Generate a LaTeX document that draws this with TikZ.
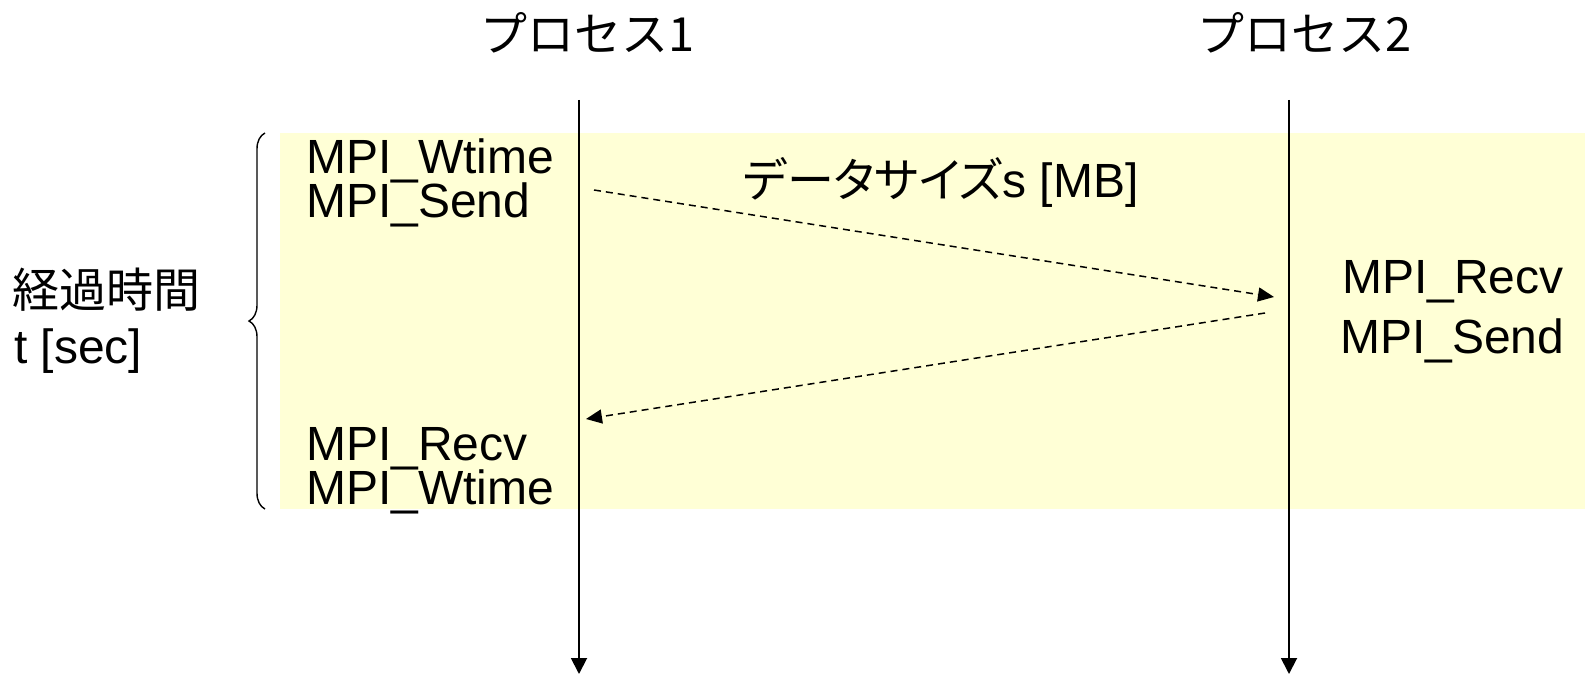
\documentclass[tikz,border=0pt]{standalone}
\usepackage{fontspec}
\setmainfont{Liberation Sans}
\newfontfamily\cjk{Noto Sans CJK JP}
\newfontfamily\cjkp[RawFeature=+palt]{Noto Sans CJK JP}
\usetikzlibrary{arrows.meta,decorations.pathreplacing}
\definecolor{bgyellow}{RGB}{255,255,214}
\tikzset{
  lbl/.style={inner sep=0pt, font=\fontsize{48}{48}\selectfont},
  jlbl/.style={inner sep=0pt, font=\cjk\fontsize{47}{47}\selectfont},
  lifeline/.style={line width=1.9pt, -{Triangle[length=16pt,width=16pt]}},
  msg/.style={line width=1.5pt, dash pattern=on 7pt off 5pt, -{Triangle[length=16pt,width=14pt]}},
}
\begin{document}
\begin{tikzpicture}[x=1pt,y=-1pt]
\useasboundingbox (0,0) rectangle (1585,674);
\fill[bgyellow] (280,133) rectangle (1585,509);
% titles
\node[jlbl] (t1) at (588,33) {プロセス1};
\node[jlbl] (t2) at (1305,33) {プロセス2};
% lifelines
\coordinate (p1top) at (579,100);
\coordinate (p1bot) at (579,674);
\coordinate (p2top) at (1289,100);
\coordinate (p2bot) at (1289,674);
\draw[lifeline] (p1top) -- (p1bot);
\draw[lifeline] (p2top) -- (p2bot);
% left labels
\node[lbl, anchor=base west] (w1) at (306,173) {MPI\_Wtime};
\node[lbl, anchor=base west] (s1) at (306,217) {MPI\_Send};
\node[lbl, anchor=base west] (r1) at (306,460) {MPI\_Recv};
\node[lbl, anchor=base west] (w2) at (306,504) {MPI\_Wtime};
% right labels
\node[lbl, anchor=base west] (r2) at (1342,293) {MPI\_Recv};
\node[lbl, anchor=base west] (s2) at (1340,353) {MPI\_Send};
% data size
\node[lbl, anchor=base] (ds) at (941,197) {{\cjkp\fontsize{47}{47}\selectfont データサイズ}s [MB]};
% messages
\coordinate (m1a) at (594,190);
\coordinate (m1b) at (1274,297);
\coordinate (m2a) at (1265,313);
\coordinate (m2b) at (586,419);
\draw[msg] (m1a) -- (m1b);
\draw[msg] (m2a) -- (m2b);
% brace
\coordinate (bb) at (265,509);
\coordinate (bt) at (265,133);
\draw[line width=1.4pt, decorate, decoration={brace, amplitude=16pt}] (bb) -- (bt);
% time label
\node[jlbl, anchor=west] (el) at (12,290) {経過時間};
\node[lbl, anchor=base west] (ts) at (14,363) {t [sec]};
\end{tikzpicture}
\end{document}
